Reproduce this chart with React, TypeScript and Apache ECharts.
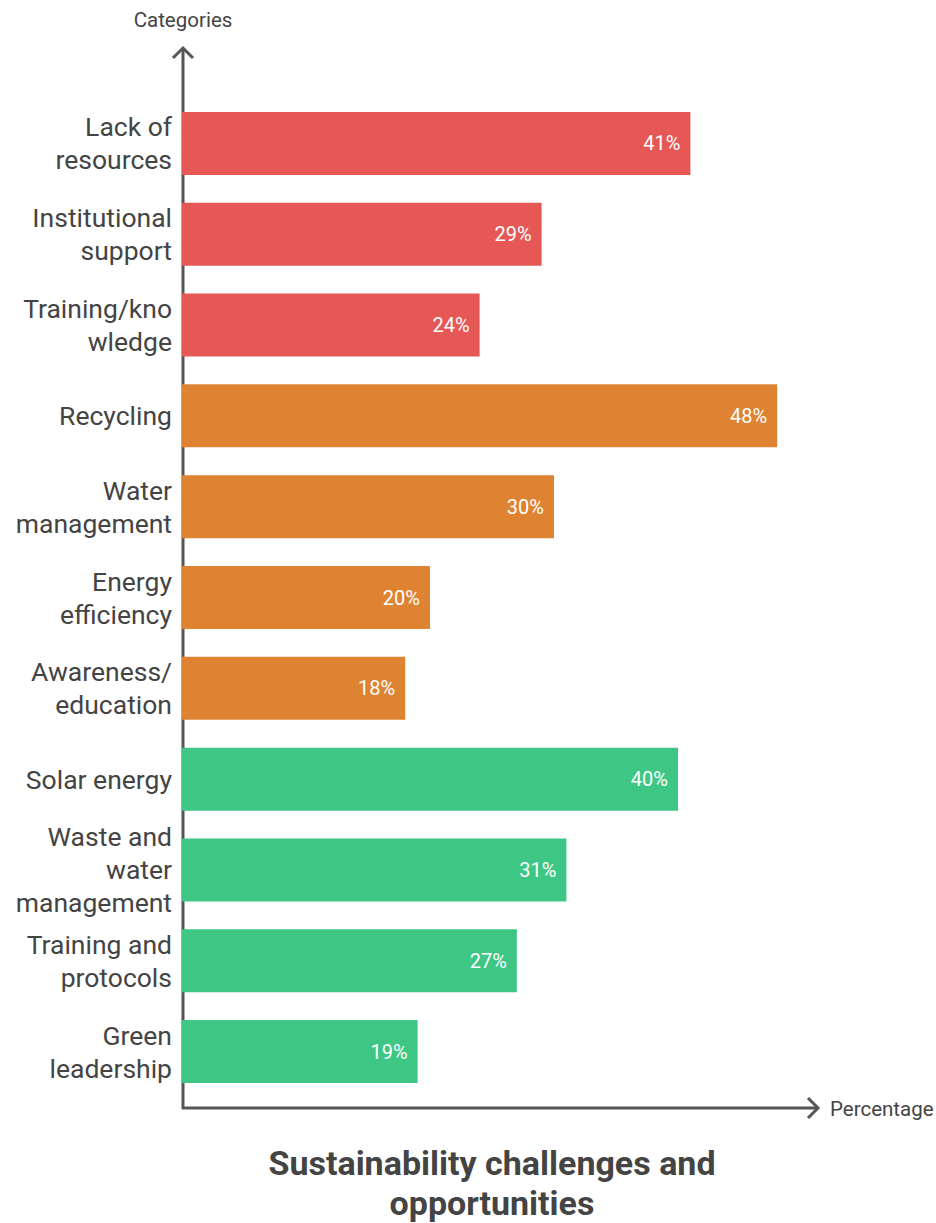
import React, { useEffect, useRef } from "react";
import * as echarts from "echarts";

const categories = [
  "Lack of\nresources",
  "Institutional\nsupport",
  "Training/kno\nwledge",
  "Recycling",
  "Water\nmanagement",
  "Energy\nefficiency",
  "Awareness/\neducation",
  "Solar energy",
  "Waste and\nwater\nmanagement",
  "Training and\nprotocols",
  "Green\nleadership",
];
const values = [41, 29, 24, 48, 30, 20, 18, 40, 31, 27, 19];
const groups = [0, 0, 0, 1, 1, 1, 1, 2, 2, 2, 2];
const groupColors = ["#E55855", "#DE8331", "#3EC685"];
const titleLines = ["Sustainability challenges and", "opportunities"];
const xAxisName = "Percentage";
const yAxisName = "Categories";

export default function App() {
  const ref = useRef<HTMLDivElement>(null);
  useEffect(() => {
    document.body.style.margin = "0";
    const chart = echarts.init(ref.current!, null, { renderer: "svg" });
    const axisColor = "#555555";
    const font = "Roboto, 'Noto Sans', sans-serif";
    chart.setOption({
      animation: false,
      backgroundColor: "#ffffff",
      grid: { left: 182, right: 134, top: 98, bottom: 126 },
      xAxis: {
        type: "value",
        min: 0,
        max: 50,
        show: false,
      },
      yAxis: {
        type: "category",
        data: categories,
        inverse: true,
        axisLine: { show: false },
        axisTick: { show: false },
        splitLine: { show: false },
        axisLabel: {
          color: "#444444",
          fontSize: 26.5,
          lineHeight: 33,
          fontFamily: font,
          margin: 10,
          align: "right",
        },
      },
      series: [
        {
          type: "bar",
          barWidth: 63,
          data: values.map((v, i) => ({
            value: v,
            itemStyle: { color: groupColors[groups[i]] },
          })),
          label: {
            show: true,
            position: "insideRight",
            distance: 10,
            color: "#ffffff",
            fontSize: 20,
            fontFamily: font,
            formatter: (p: any) => p.value + "%",
          },
        },
      ],
      graphic: [
        {
          type: "line",
          shape: { x1: 183, y1: 48, x2: 183, y2: 1109 },
          style: { stroke: axisColor, lineWidth: 3 },
        },
        {
          type: "line",
          shape: { x1: 182, y1: 1108, x2: 818, y2: 1108 },
          style: { stroke: axisColor, lineWidth: 3 },
        },
        {
          type: "polyline",
          shape: { points: [[173, 58], [183, 48], [193, 58]] },
          style: { stroke: axisColor, lineWidth: 3, fill: null },
        },
        {
          type: "polyline",
          shape: { points: [[808, 1098], [818, 1108], [808, 1118]] },
          style: { stroke: axisColor, lineWidth: 3, fill: null },
        },
        {
          type: "text",
          x: 183,
          y: 20,
          style: {
            text: yAxisName,
            fill: "#444444",
            fontSize: 20.5,
            fontFamily: font,
            align: "center",
            verticalAlign: "middle",
          },
        },
        {
          type: "text",
          x: 830,
          y: 1109,
          style: {
            text: xAxisName,
            fill: "#444444",
            fontSize: 20.5,
            fontFamily: font,
            align: "left",
            verticalAlign: "middle",
          },
        },
        {
          type: "text",
          x: 492,
          y: 1183,
          style: {
            text: titleLines.join("\n"),
            fill: "#444444",
            fontSize: 34,
            fontWeight: "bold",
            lineHeight: 40,
            fontFamily: font,
            align: "center",
            verticalAlign: "middle",
          },
        },
      ],
    });
    return () => chart.dispose();
  }, []);
  return <div ref={ref} style={{ width: 936, height: 1223 }} />;
}
